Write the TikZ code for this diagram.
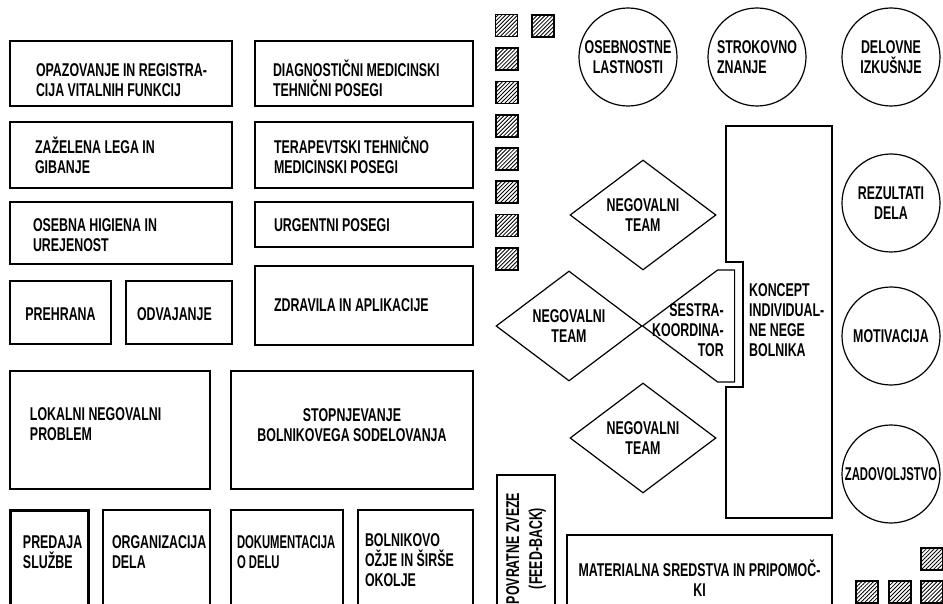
\documentclass[tikz,border=0pt]{standalone}
\usepackage{fontspec}
\newfontfamily\lettering{Liberation Sans}[FakeStretch=0.67]
\newfontfamily\narrowlettering{Liberation Sans}[FakeStretch=0.61]
\usetikzlibrary{shapes.geometric}
\usetikzlibrary{patterns.meta}
\tikzstyle{planbox}=[draw,rectangle,line width=1.2pt,inner sep=0pt]
\tikzstyle{thickbox}=[line width=3pt]
\tikzstyle{circ}=[draw,circle,line width=1.2pt,minimum size=98pt,inner sep=0pt,align=center]
\tikzstyle{team}=[draw,diamond,line width=1.2pt,minimum width=146pt,minimum height=110pt,inner sep=0pt,align=center]
\tikzstyle{freetext}=[inner sep=0pt]
\tikzstyle{hatch}=[draw,rectangle,line width=1.7pt,minimum size=22pt,inner sep=0pt,anchor=north west,pattern={Lines[angle=45,distance=2.8pt,line width=0.85pt]}]
\newcommand{\letterstrut}{\rule{0pt}{17.5pt}}
\newcommand{\narrowfont}{\narrowlettering\bfseries\fontsize{18.5}{20}\selectfont}
\newcommand{\drawplanbox}[9][]{% Syntax: [style] {name} {left} {top} {right} {bottom} {text inset} {cap top} {text}
\pgfmathsetmacro{\bw}{#5-#3}
\pgfmathsetmacro{\bh}{#6-#4}
\pgfmathsetmacro{\padtop}{#8-#4-4.3} % strut is 17.5pt, capitals about 13.2pt
\node[planbox,#1] (#2) at ({(#3+#5)/2},{(#4+#6)/2}) {\parbox[c][\bh pt][t]{\bw pt}{\vspace*{\padtop pt}\raggedright\leftskip=#7pt\relax\hyphenpenalty=10000\letterstrut#9}};
}

\begin{document}
\begin{tikzpicture}[x=1pt,y=-1pt,every node/.style={font=\lettering\bfseries\fontsize{18.5}{20}\selectfont}]
\useasboundingbox (0,0) rectangle (943,604);
\clip (0,0) rectangle (943,604);
% left block
\drawplanbox{opazovanje}{10}{41}{232}{106}{26}{63}{OPAZOVANJE IN REGISTRA-\\CIJA VITALNIH FUNKCIJ}
\drawplanbox{diagnostika}{255}{41}{473}{106}{18}{63}{DIAGNOSTIČNI MEDICINSKI\\TEHNIČNI POSEGI}
\drawplanbox{lega}{10}{122}{232}{188}{25}{140}{ZAŽELENA LEGA IN\\GIBANJE}
\drawplanbox{terapija}{255}{122}{473}{188}{19}{140}{TERAPEVTSKI TEHNIČNO\\MEDICINSKI POSEGI}
\drawplanbox{higiena}{10}{202}{232}{264}{23}{218}{OSEBNA HIGIENA IN\\UREJENOST}
\drawplanbox{urgentni}{255}{202}{473}{247}{19}{218}{URGENTNI POSEGI}
\drawplanbox{prehrana}{10}{281}{111}{344}{0}{307}{\centering PREHRANA}
\drawplanbox{odvajanje}{126}{281}{232}{344}{11}{307}{ODVAJANJE}
\drawplanbox{zdravila}{255}{266}{473}{345}{19}{298}{ZDRAVILA IN APLIKACIJE}
\drawplanbox{lokalni}{10}{371}{210}{489}{20}{407}{LOKALNI NEGOVALNI\\PROBLEM}
\drawplanbox{sodelovanje}{231}{371}{473}{489}{0}{408}{\centering STOPNJEVANJE\\BOLNIKOVEGA SODELOVANJA}
% bottom row runs past the edge
\drawplanbox[thickbox]{predaja}{10}{510}{88}{640}{13}{535}{PREDAJA\\SLUŽBE}
\drawplanbox{organizacija}{103}{510}{210}{640}{9}{535}{ORGANIZACIJA\\DELA}
\drawplanbox[font=\narrowfont]{dokumentacija}{231}{510}{343}{640}{6}{535}{DOKUMENTACIJA\\O DELU}
\drawplanbox{okolje}{358}{510}{473}{640}{7}{533}{BOLNIKOVO\\OŽJE IN ŠIRŠE\\OKOLJE}
\node[planbox,rotate=90,minimum width=147pt,minimum height=58pt,align=center] (povratne) at (526,548.5) {POVRATNE ZVEZE\\[3pt](FEED-BACK)};
\drawplanbox{materialna}{567}{535}{832}{640}{0}{563}{\centering MATERIALNA SREDSTVA IN PRIPOMOČ-\\KI}
% hatched squares
\foreach \i in {0,...,7} \node[hatch] (sq\i) at (495,{14+33.3*\i}) {};
\node[hatch] (sqtop) at (531,14) {};
\node[hatch] (sqright) at (920,547) {};
\foreach \i/\x in {1/855,2/888,3/920} \node[hatch] (sqbot\i) at (\x,580) {};
% circles
\node[circ] (osebnostne) at (628,57) {OSEBNOSTNE\\LASTNOSTI};
\node[circ,align=left] (strokovno) at (757,57) {STROKOVNO\\ZNANJE};
\node[circ] (delovne) at (891,57) {DELOVNE\\IZKUŠNJE};
\node[circ] (rezultati) at (891,203) {REZULTATI\\DELA};
\node[circ] (motivacija) at (891,336) {MOTIVACIJA};
\node[circ,font=\narrowfont] (zadovoljstvo) at (891,474) {ZADOVOLJSTVO};
% teams
\node[team] (teamtop) at (643,215) {NEGOVALNI\\TEAM};
\node[team] (teammid) at (569,326) {NEGOVALNI\\TEAM};
\node[team] (teambot) at (643,438) {NEGOVALNI\\TEAM};
\draw[line width=1.2pt] (teammid.east) -- ++(75,-56) -- ++(17,0) -- ++(0,112) -- ++(-17,0) -- cycle;
\node[freetext,align=right,anchor=east] (sestra) at (724,330) {SESTRA-\\KOORDINA-\\TOR};
% koncept
\draw[line width=1.2pt] (726,126) -- (832,126) -- (832,518) -- (726,518) -- (726,387) -- (743,387) -- (743,262) -- (726,262) -- cycle;
\node[freetext,align=left,anchor=west] (koncept) at (749,320) {KONCEPT\\INDIVIDUAL-\\NE NEGE\\BOLNIKA};
\end{tikzpicture}
\end{document}
